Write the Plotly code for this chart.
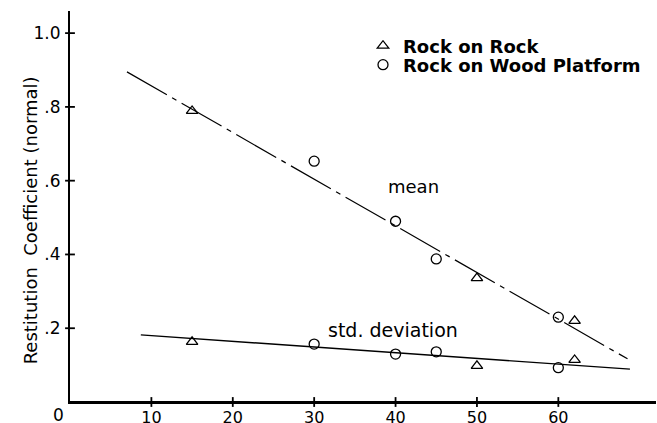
import plotly.graph_objects as go

# Impact angle (deg) for each material pairing
rock_x = [15, 50, 62]
wood_x = [30, 40, 45, 60]

# Restitution coefficient (normal): mean and standard deviation
rock_mean = [0.789, 0.336, 0.22]
rock_std = [0.163, 0.098, 0.114]
wood_mean = [0.653, 0.49, 0.388, 0.23]
wood_std = [0.157, 0.13, 0.136, 0.093]

# Fitted trend lines (end points)
mean_fit_x = [7, 68.5]
mean_fit_y = [0.895, 0.117]
std_fit_x = [8.7, 68.8]
std_fit_y = [0.182, 0.089]

x_ticks = [10, 20, 30, 40, 50, 60]
x_labels = ["10", "20", "30", "40", "50", "60"]
y_ticks = [0.2, 0.4, 0.6, 0.8, 1.0]
y_labels = [".2", ".4", ".6", ".8", "1.0"]

FONT = "DejaVu Sans"
INK = "rgb(0,0,0)"

fig = go.Figure()

fig.add_trace(go.Scatter(
    x=mean_fit_x, y=mean_fit_y, mode="lines",
    line=dict(color=INK, width=1.2, dash="46px,6px,5px,6px"),
    showlegend=False, hoverinfo="skip"))
fig.add_trace(go.Scatter(
    x=std_fit_x, y=std_fit_y, mode="lines",
    line=dict(color=INK, width=1.4),
    showlegend=False, hoverinfo="skip"))

fig.add_trace(go.Scatter(
    x=rock_x + rock_x, y=rock_mean + rock_std, mode="markers",
    name="<b>Rock on Rock</b>", legend="legend",
    marker=dict(symbol="triangle-up-open", size=10, color=INK,
                line=dict(width=1.3, color=INK))))
fig.add_trace(go.Scatter(
    x=wood_x + wood_x, y=wood_mean + wood_std, mode="markers",
    name="<b>Rock on Wood Platform</b>", legend="legend2",
    marker=dict(symbol="circle-open", size=10, color=INK,
                line=dict(width=1.3, color=INK))))

# Cross-shaped tick marks straddling both axes
fig.add_trace(go.Scatter(
    x=x_ticks, y=[0] * len(x_ticks), mode="markers", cliponaxis=False,
    marker=dict(symbol="line-ns-open", size=7, color=INK,
                line=dict(width=1.8, color=INK)),
    showlegend=False, hoverinfo="skip"))
fig.add_trace(go.Scatter(
    x=[0] * len(y_ticks), y=y_ticks, mode="markers", cliponaxis=False,
    marker=dict(symbol="line-ew-open", size=7, color=INK,
                line=dict(width=1.8, color=INK)),
    showlegend=False, hoverinfo="skip"))

axis_common = dict(showgrid=False, zeroline=False, showline=True,
                   linecolor=INK, linewidth=2, ticks="",
                   layer="above traces", automargin=False)

legend_common = dict(x=0.5, xanchor="left", yanchor="middle",
                     bgcolor="rgba(0,0,0,0)",
                     font=dict(family=FONT, size=18, color=INK))

fig.update_layout(
    width=657, height=423,
    margin=dict(l=70, r=1, t=11, b=21, autoexpand=False),
    paper_bgcolor="white", plot_bgcolor="white",
    font=dict(family=FONT, size=15, color=INK),
    showlegend=True,
    legend=dict(y=(402 - 46) / 391, **legend_common),
    legend2=dict(y=(402 - 65) / 391, **legend_common),
    xaxis=dict(range=[0, 72], tickvals=x_ticks, ticktext=x_labels,
               ticklabelstandoff=0,
               tickfont=dict(family=FONT, size=16, color=INK), **axis_common),
    yaxis=dict(range=[0, 1.06], tickvals=y_ticks, ticktext=y_labels,
               ticklabelstandoff=4,
               tickfont=dict(family=FONT, size=17, color=INK), **axis_common),
)

# Baseline of the horizontal axis, kept on top of everything
fig.add_shape(type="line", xref="paper", yref="y", x0=0, x1=1, y0=0, y1=0,
              line=dict(color=INK, width=2), layer="above")

# Origin label
fig.add_annotation(x=0, y=0, xref="x", yref="y", text="0", showarrow=False,
                   xanchor="center", yanchor="top", xshift=-12, yshift=-1,
                   font=dict(family=FONT, size=17, color=INK))

# Axis title
fig.add_annotation(x=-0.089, y=(402 - 220) / 391, xref="paper", yref="paper",
                   text="Restitution  Coefficient (normal)", textangle=-90,
                   showarrow=False, font=dict(family=FONT, size=18, color=INK))

# Curve labels
fig.add_annotation(x=42.2, y=0.585, xref="x", yref="y", text="mean",
                   showarrow=False, font=dict(family=FONT, size=18, color=INK))
fig.add_annotation(x=39.7, y=0.195, xref="x", yref="y", text="std. deviation",
                   showarrow=False, font=dict(family=FONT, size=19, color=INK))

fig.write_html("out.html")
